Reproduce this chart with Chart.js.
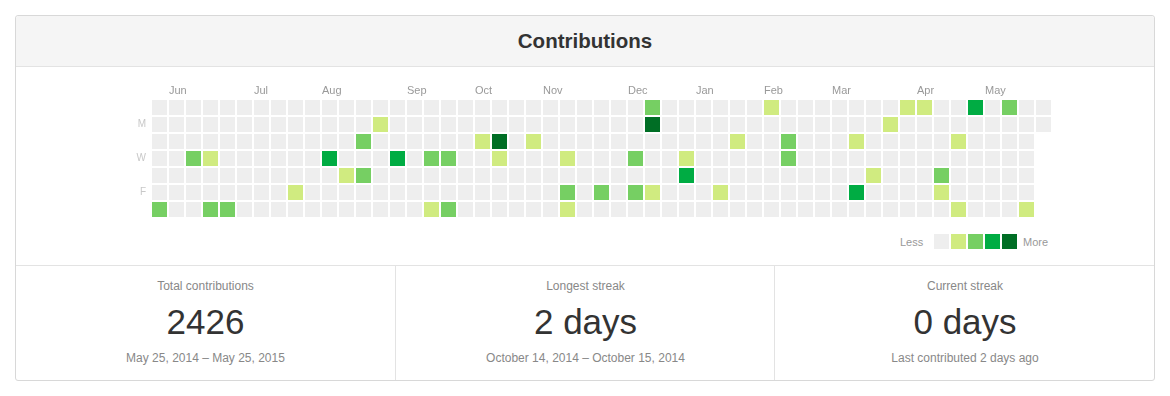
<!DOCTYPE html>
<html>
<head>
<meta charset="utf-8">
<title>Contributions</title>
<script src="https://cdn.jsdelivr.net/npm/chart.js@4/dist/chart.umd.min.js"></script>
<style>
  body { margin: 0; width: 1170px; height: 396px; background: #fff; overflow: hidden;
         font-family: "Liberation Sans", Arial, Helvetica, sans-serif; position: relative; }
  .card { position: absolute; left: 15px; top: 15px; width: 1140px; height: 366px;
          box-sizing: border-box; border: 1px solid #d8d8d8; border-radius: 3px; }
  .card-header { position: absolute; left: 0; top: 0; right: 0; height: 50px; background: #f5f5f5;
                 border-bottom: 1px solid #e3e3e3; border-radius: 3px 3px 0 0;
                 text-align: center; line-height: 50px; font-size: 20.5px; font-weight: bold; color: #333; }
  .stats { position: absolute; left: 0; right: 0; top: 249px; bottom: 0; border-top: 1px solid #e3e3e3; }
  .stat { position: absolute; top: 0; bottom: 0; text-align: center; }
  .stat + .stat { border-left: 1px solid #e3e3e3; }
  .stat .label { position: absolute; left: 0; right: 0; top: 13px; font-size: 12px; color: #888; }
  .stat .value { position: absolute; left: 0; right: 0; top: 36px; font-size: 35px; color: #333; }
  .stat .sub { position: absolute; left: 0; right: 0; top: 85px; font-size: 12px; color: #888; }
  #calendar { position: absolute; left: 131px; top: 79px; }
  .legend { position: absolute; top: 234px; left: 890px; height: 15px; font-size: 11px; color: #999; }
  .legend span { position: absolute; top: 1px; line-height: 15px; }
  .legend i { position: absolute; top: 1px; width: 15px; height: 15px; }
</style>
</head>
<body>
<div class="card">
  <div class="card-header">Contributions</div>
  <div class="stats" id="stats"></div>
</div>
<canvas id="calendar" width="921" height="139"></canvas>
<div class="legend" id="legend"></div>

<script>
// Calendar data: one array per weekday, one entry per week (level 0-4, null = no day)
const weekdayNames = ['Sun', 'Mon', 'Tue', 'Wed', 'Thu', 'Fri', 'Sat'];
const dayTickLabels = ['', 'M', '', 'W', '', 'F', ''];
const monthLabels = ['Jun', 'Jul', 'Aug', 'Sep', 'Oct', 'Nov', 'Dec', 'Jan', 'Feb', 'Mar', 'Apr', 'May'];
const monthStartWeeks = [1, 6, 10, 15, 19, 23, 28, 32, 36, 40, 45, 49];
const levelColors = ['#eeeeee', '#d0eb80', '#76cf63', '#00ac43', '#006e25'];

const levelsSun = [0,0,0,0,0,0,0,0,0,0, 0,0,0,0,0,0,0,0,0,0, 0,0,0,0,0,0,0,0,0,2, 0,0,0,0,0,0,1,0,0,0, 0,0,0,0,1,1,0,0,3,0, 2,0,0];
const levelsMon = [0,0,0,0,0,0,0,0,0,0, 0,0,0,1,0,0,0,0,0,0, 0,0,0,0,0,0,0,0,0,4, 0,0,0,0,0,0,0,0,0,0, 0,0,0,1,0,0,0,0,0,0, 0,0,0];
const levelsTue = [0,0,0,0,0,0,0,0,0,0, 0,0,2,0,0,0,0,0,0,1, 4,0,1,0,0,0,0,0,0,0, 0,0,0,0,1,0,0,2,0,0, 0,1,0,0,0,0,0,1,0,0, 0,0,null];
const levelsWed = [0,0,2,1,0,0,0,0,0,0, 3,0,0,0,3,0,2,2,0,0, 1,0,0,0,1,0,0,0,2,0, 0,1,0,0,0,0,0,2,0,0, 0,0,0,0,0,0,0,0,0,0, 0,0,null];
const levelsThu = [0,0,0,0,0,0,0,0,0,0, 0,1,2,0,0,0,0,0,0,0, 0,0,0,0,0,0,0,0,0,0, 0,3,0,0,0,0,0,0,0,0, 0,0,1,0,0,0,2,0,0,0, 0,0,null];
const levelsFri = [0,0,0,0,0,0,0,0,1,0, 0,0,0,0,0,0,0,0,0,0, 0,0,0,0,2,0,2,0,2,1, 0,0,0,1,0,0,0,0,0,0, 0,3,0,0,0,0,1,0,0,0, 0,0,null];
const levelsSat = [2,0,0,2,2,0,0,0,0,0, 0,0,0,0,0,0,1,2,0,0, 0,0,0,0,1,0,0,0,0,0, 0,0,0,0,0,0,0,0,0,0, 0,0,0,0,0,0,0,1,0,0, 0,1,null];
const levelRows = [levelsSun, levelsMon, levelsTue, levelsWed, levelsThu, levelsFri, levelsSat];

// Summary numbers under the calendar
const statTitles = ['Total contributions', 'Longest streak', 'Current streak'];
const statValues = ['2426', '2 days', '0 days'];
const statNotes = ['May 25, 2014 – May 25, 2015', 'October 14, 2014 – October 15, 2014', 'Last contributed 2 days ago'];

const weeks = levelsSun.map((_, i) => i);
const cellFill = 15 / 17; // cell size vs. slot size

// Build one floating-bar dataset per weekday
const datasets = levelRows.map((row, day) => ({
    label: weekdayNames[day],
    data: row.map(l => l === null ? null : [day - cellFill / 2, day + cellFill / 2]),
    backgroundColor: row.map(l => l === null ? 'rgba(0,0,0,0)' : levelColors[l]),
    borderWidth: 0,
    grouped: false,
    categoryPercentage: 1,
    barPercentage: cellFill
}));

new Chart(document.getElementById('calendar'), {
    type: 'bar',
    data: { labels: weeks, datasets: datasets },
    options: {
        responsive: false,
        animation: false,
        devicePixelRatio: 1,
        events: [],
        layout: { padding: 0 },
        plugins: { legend: { display: false }, tooltip: { enabled: false } },
        scales: {
            x: {
                type: 'category',
                position: 'top',
                offset: true,
                grid: { display: false, drawTicks: false },
                border: { display: false },
                afterFit: scale => {
                    scale.height = 20;
                    scale.paddingLeft = 0;
                    scale.paddingRight = 0;
                },
                ticks: {
                    autoSkip: false,
                    maxRotation: 0,
                    align: 'start',
                    labelOffset: -7.5,
                    padding: 1,
                    color: '#999',
                    font: { size: 11, family: '"Liberation Sans", Arial, sans-serif' },
                    callback: (value, index) => {
                        const m = monthStartWeeks.indexOf(index);
                        return m >= 0 ? monthLabels[m] : '';
                    }
                }
            },
            y: {
                type: 'linear',
                min: -0.5,
                max: weekdayNames.length - 0.5,
                reverse: true,
                grid: { display: false, drawTicks: false },
                border: { display: false },
                afterFit: scale => {
                    scale.width = 20;
                    scale.paddingTop = 0;
                    scale.paddingBottom = 0;
                },
                afterBuildTicks: scale => {
                    scale.ticks = dayTickLabels
                        .map((t, i) => ({ value: i, t: t }))
                        .filter(d => d.t !== '')
                        .map(d => ({ value: d.value }));
                },
                ticks: {
                    padding: 5,
                    color: '#c8c8c8',
                    font: { size: 10, family: '"Liberation Sans", Arial, sans-serif' },
                    callback: value => dayTickLabels[value]
                }
            }
        }
    }
});

// Legend (Less ... More)
const legend = document.getElementById('legend');
legend.innerHTML = '<span style="left:10px">Less</span>' +
    levelColors.map((c, i) => `<i style="left:${44 + i * 17}px;top:0;background:${c}"></i>`).join('') +
    '<span style="left:133px">More</span>';

// Summary board
const stats = document.getElementById('stats');
const colLefts = [0, 379, 758];
const colWidths = [379, 379, 380];
stats.innerHTML = statTitles.map((t, i) =>
    `<div class="stat" style="left:${colLefts[i]}px;width:${colWidths[i]}px">
       <div class="label">${t}</div>
       <div class="value">${statValues[i]}</div>
       <div class="sub">${statNotes[i]}</div>
     </div>`).join('');
</script>
</body>
</html>
